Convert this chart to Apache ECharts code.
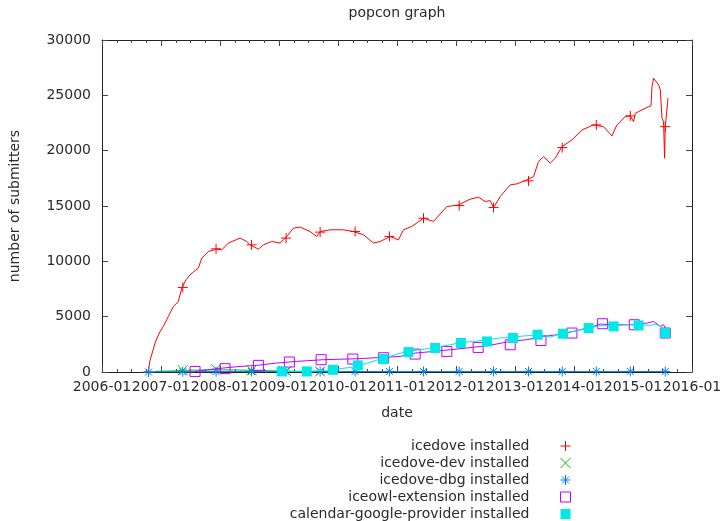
<!DOCTYPE html>
<html><head><meta charset="utf-8">
<script src="https://cdn.jsdelivr.net/npm/echarts@6/dist/echarts.min.js"></script>
<style>html,body{margin:0;padding:0;background:#fff}#c{width:720px;height:521px}</style>
</head><body><div id="c"></div><script>
// ---------- data (x = decimal year) ----------
const xTickLabels = ['2006-01','2007-01','2008-01','2009-01','2010-01','2011-01','2012-01','2013-01','2014-01','2015-01','2016-01'];
const yTicks = [0, 5000, 10000, 15000, 20000, 25000, 30000];
const seriesNames = ['icedove installed','icedove-dev installed','icedove-dbg installed','iceowl-extension installed','calendar-google-provider installed'];

const icedoveX = [2006.785,2006.81,2006.899,2006.97,2007.04,2007.124,2007.209,2007.294,2007.352,2007.424,2007.492,2007.633,2007.691,2007.803,2007.945,2008.030,2008.142,2008.340,2008.454,2008.510,2008.651,2008.735,2008.878,2009.018,2009.132,2009.244,2009.358,2009.527,2009.641,2009.697,2009.866,2010.092,2010.262,2010.431,2010.601,2010.714,2010.884,2011.025,2011.109,2011.252,2011.449,2011.618,2011.845,2012.042,2012.241,2012.381,2012.495,2012.580,2012.636,2012.749,2012.919,2013.032,2013.202,2013.314,2013.399,2013.484,2013.597,2013.682,2013.796,2013.965,2014.050,2014.135,2014.331,2014.501,2014.643,2014.728,2014.869,2014.954,2015.010,2015.039,2015.152,2015.264,2015.305,2015.322,2015.349,2015.434,2015.463,2015.491,2015.518,2015.535,2015.547,2015.559,2015.593];
const icedoveY = [0,960,2620,3520,4120,5020,5920,6370,7580,8330,8780,9390,10290,10890,11100,11040,11650,12100,11790,11490,11100,11490,11790,11650,12240,13000,13090,12690,12240,12690,12850,12850,12690,12400,11650,11790,12240,11940,12850,13150,13900,13600,14950,15100,15620,15800,15400,15490,14860,15850,16910,17000,17360,17660,19010,19460,18870,19320,20370,20970,21420,21870,22330,22170,21330,22330,23080,23140,22620,23380,23680,23980,24040,25780,26540,25940,25490,22930,22620,19320,22170,22170,24740];

const devX = [2006.899,2007.2,2007.369,2007.6,2007.933,2008.3,2008.535,2008.8,2009.0,2009.120,2009.4,2009.697];
const devY = [60,100,150,170,200,180,150,120,90,80,60,50];

const dbgX = [2006.785,2007.0,2007.5,2008.0,2009.0,2010.0,2011.0,2012.0,2013.0,2014.0,2015.0,2015.559];
const dbgY = [0,20,30,40,40,40,50,50,50,50,50,40];

const owlX = [2007.577,2008.052,2008.340,2008.623,2008.963,2009.302,2009.753,2010.319,2010.770,2011.053,2011.308,2011.618,2011.901,2012.185,2012.524,2012.919,2013.202,2013.484,2013.711,2013.992,2014.331,2014.445,2014.671,2015.010,2015.237,2015.349,2015.462,2015.518,2015.576];
const owlY = [50,360,500,600,810,960,1110,1200,1320,1410,1710,1860,2010,2170,2370,2760,2920,3210,3370,3670,4120,4330,4270,4270,4420,4570,4120,4270,3670];

const calX = [2009.047,2009.471,2009.912,2010.319,2010.770,2011.167,2011.393,2011.647,2011.901,2012.083,2012.297,2012.524,2012.749,2012.965,2013.202,2013.382,2013.597,2013.813,2013.992,2014.247,2014.445,2014.671,2014.898,2015.095,2015.293,2015.378,2015.462,2015.547];
const calY = [50,50,200,500,1260,1860,2010,2220,2460,2670,2760,2920,3070,3160,3280,3370,3160,3520,3670,3970,4180,4180,4270,4270,4210,4330,4120,3820];

// point markers (every n-th sample, as drawn in the reference)
const icedoveMarkX = [2006.789,2007.369,2007.933,2008.535,2009.120,2009.697,2010.290,2010.872,2011.449,2012.054,2012.636,2013.229,2013.801,2014.378,2014.954,2015.547];
const icedoveMarkY = [0,7640,11130,11490,12100,12640,12700,12250,13900,15040,14860,17270,20280,22330,23140,22170];
const devMarkX = [2007.369,2007.933,2008.535,2009.120,2009.697];
const devMarkY = [150,250,150,80,50];
const dbgMarkX = icedoveMarkX;
const dbgMarkY = [0,30,30,40,40,40,40,50,50,50,50,50,50,50,50,40];
const owlMarkX = [2007.577,2008.086,2008.651,2009.176,2009.714,2010.251,2010.773,2011.308,2011.845,2012.375,2012.919,2013.440,2013.965,2014.485,2015.022,2015.547];
const owlMarkY = [50,300,600,900,1110,1170,1290,1620,1860,2220,2460,2850,3520,4360,4270,3520];
const calMarkX = [2009.047,2009.471,2009.912,2010.336,2010.770,2011.194,2011.647,2012.083,2012.524,2012.965,2013.382,2013.813,2014.247,2014.671,2015.095,2015.547];
const calMarkY = [50,50,200,600,1170,1800,2170,2620,2760,3070,3370,3460,3970,4120,4210,3520];

// ---------- styling ----------
const FONT = 'DejaVu Sans';
const TXT = '#2a2a2a';
const colors = ['#ff0000','#00c000','#0080ff','#c000ff','#00e8e8'];
const symbols = [
  'path://M0,5L10,5M5,0L5,10',
  'path://M0,0L10,10M10,0L0,10',
  'path://M0,5L10,5M5,0L5,10M1.5,1.5L8.5,8.5M8.5,1.5L1.5,8.5',
  'rect',
  'rect'
];
const filled = [false,false,false,false,true];

const zip = (xs, ys) => xs.map((x, i) => [x, ys[i]]);
const lines = [[icedoveX,icedoveY],[devX,devY],[dbgX,dbgY],[owlX,owlY],[calX,calY]];
const marks = [[icedoveMarkX,icedoveMarkY],[devMarkX,devMarkY],[dbgMarkX,dbgMarkY],[owlMarkX,owlMarkY],[calMarkX,calMarkY]];

const series = [];
for (let i = 0; i < 5; i++) {
  series.push({
    type: 'line', name: seriesNames[i] + ' (line)', data: zip(lines[i][0], lines[i][1]),
    showSymbol: false, symbol: 'none', silent: true,
    lineStyle: { color: colors[i], width: 1 }, itemStyle: { color: colors[i] },
    xAxisIndex: 0, yAxisIndex: 0, z: 2 + i
  });
  series.push({
    type: 'scatter', name: seriesNames[i], data: zip(marks[i][0], marks[i][1]),
    symbol: symbols[i], symbolSize: 10, silent: true,
    itemStyle: filled[i]
      ? { color: colors[i], borderWidth: 0, opacity: 1 }
      : { color: 'rgba(0,0,0,0)', borderColor: colors[i], borderWidth: 1, opacity: 1 },
    xAxisIndex: 0, yAxisIndex: 0, z: 2 + i
  });
}

const axisLine = { show: true, onZero: false, lineStyle: { color: '#222', width: 1 } };
const tickStyle = { color: '#444', width: 1 };

const option = {
  animation: false,
  backgroundColor: '#fff',
  textStyle: { fontFamily: FONT },
  title: {
    text: 'popcon graph', left: 397, top: 6, padding: 0, textAlign: 'center',
    textStyle: { fontFamily: FONT, fontSize: 14, fontWeight: 'normal', color: TXT }
  },
  grid: { left: 102, top: 40, width: 590, height: 332, containLabel: false, outerBoundsMode: 'none' },
  legend: {
    orient: 'vertical', align: 'right', right: 149, top: 439, padding: 0,
    itemWidth: 10, itemHeight: 10, itemGap: 3,
    data: seriesNames,
    itemStyle: { borderWidth: 1 },
    textStyle: { fontFamily: FONT, fontSize: 14, color: TXT, padding: [0, 26, 0, 0] },
    selectedMode: false
  },
  xAxis: [
    {
      type: 'value', min: 2006, max: 2016, interval: 1, position: 'bottom',
      axisLine, splitLine: { show: false },
      axisTick: { show: true, inside: true, length: 6, lineStyle: tickStyle },
      minorTick: { show: true, splitNumber: 4, length: 3, lineStyle: tickStyle },
      axisLabel: { show: true, margin: 8, color: TXT, fontFamily: FONT, fontSize: 14, hideOverlap: false,
        showMinLabel: true, showMaxLabel: true,
        formatter: v => xTickLabels[Math.round(v - 2006)] },
      name: 'date', nameLocation: 'middle', nameGap: 34,
      nameTextStyle: { fontFamily: FONT, fontSize: 14, color: TXT }
    },
    {
      type: 'value', min: 2006, max: 2016, interval: 1, position: 'top',
      axisLine, splitLine: { show: false },
      axisTick: { show: true, inside: true, length: 6, lineStyle: tickStyle },
      minorTick: { show: true, splitNumber: 4, length: 3, lineStyle: tickStyle },
      axisLabel: { show: false }
    }
  ],
  yAxis: [
    {
      type: 'value', min: yTicks[0], max: yTicks[yTicks.length - 1], interval: 5000, position: 'left',
      axisLine, splitLine: { show: false },
      axisTick: { show: true, inside: true, length: 6, lineStyle: tickStyle },
      axisLabel: { show: true, margin: 11, color: TXT, fontFamily: FONT, fontSize: 14,
        formatter: v => String(v) },
      name: 'number of submitters', nameLocation: 'middle', nameGap: 80, nameRotate: 90,
      nameTextStyle: { fontFamily: FONT, fontSize: 14, color: TXT }
    },
    {
      type: 'value', min: yTicks[0], max: yTicks[yTicks.length - 1], interval: 5000, position: 'right',
      axisLine, splitLine: { show: false },
      axisTick: { show: true, inside: true, length: 6, lineStyle: tickStyle },
      axisLabel: { show: false }
    }
  ],
  series
};

const chart = echarts.init(document.getElementById('c'), null, { renderer: 'canvas' });
chart.setOption(option);
</script></body></html>
